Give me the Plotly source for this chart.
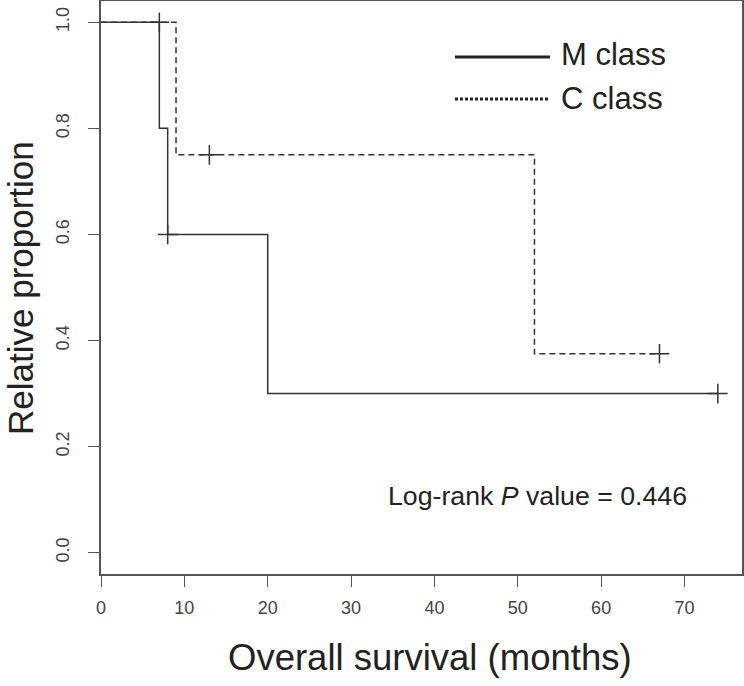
import plotly.graph_objects as go

# Kaplan-Meier step data (months, survival proportion)
m_time = [0, 7, 8, 20, 74]
m_surv = [1.0, 0.8, 0.6, 0.3, 0.3]
m_cens_time = [7, 8, 74]
m_cens_surv = [1.0, 0.6, 0.3]

c_time = [0, 9, 52, 67]
c_surv = [1.0, 0.75, 0.375, 0.375]
c_cens_time = [13, 67]
c_cens_surv = [0.75, 0.375]

x_ticks = [0, 10, 20, 30, 40, 50, 60, 70]
y_ticks = [0.0, 0.2, 0.4, 0.6, 0.8, 1.0]
y_ticktext = ["0.0", "0.2", "0.4", "0.6", "0.8", "1.0"]

LINE = "#333333"
FONT = "Liberation Sans, Arial, Helvetica, sans-serif"

fig = go.Figure()
fig.add_trace(go.Scatter(x=m_time, y=m_surv, mode="lines", line=dict(shape="hv", color=LINE, width=1.5),
                         showlegend=False, hoverinfo="skip"))
fig.add_trace(go.Scatter(x=c_time, y=c_surv, mode="lines", line=dict(shape="hv", color=LINE, width=1.5, dash="6px,4px"),
                         showlegend=False, hoverinfo="skip"))
fig.add_trace(go.Scatter(x=m_cens_time, y=m_cens_surv, mode="markers",
                         marker=dict(symbol="cross-thin", size=14, line=dict(color=LINE, width=1.5)),
                         showlegend=False))
fig.add_trace(go.Scatter(x=c_cens_time, y=c_cens_surv, mode="markers",
                         marker=dict(symbol="cross-thin", size=14, line=dict(color=LINE, width=1.5)),
                         showlegend=False))

# manual legend (R-style)
fig.add_shape(type="line", xref="paper", yref="paper", x0=0.5523, x1=0.7005, y0=0.9023, y1=0.9023,
              line=dict(color="#222222", width=3))
fig.add_shape(type="line", xref="paper", yref="paper", x0=0.5523, x1=0.7005, y0=0.829, y1=0.829,
              line=dict(color="#222222", width=3, dash="3px,2px"))

annotations = [
    dict(text="M class", x=0.715, y=0.906, xref="paper", yref="paper", xanchor="left", yanchor="middle",
         showarrow=False, font=dict(size=31, color="#222222", family=FONT)),
    dict(text="C class", x=0.715, y=0.829, xref="paper", yref="paper", xanchor="left", yanchor="middle",
         showarrow=False, font=dict(size=31, color="#222222", family=FONT)),
    dict(text="Log-rank <i>P</i> value = 0.446", x=0.444, y=0.136, xref="paper", yref="paper",
         xanchor="left", yanchor="middle", showarrow=False, font=dict(size=26.7, color="#222222", family=FONT)),
    dict(text="Overall survival (months)", x=(430 - 101) / 641, y=-(657 - 574) / 573, xref="paper", yref="paper",
         xanchor="center", yanchor="middle", showarrow=False, font=dict(size=36.5, color="#222222", family=FONT)),
    dict(text="Relative proportion", x=-(101 - 20) / 641, y=(574 - 288) / 573, xref="paper", yref="paper",
         xanchor="center", yanchor="middle", textangle=-90, showarrow=False,
         font=dict(size=35, color="#222222", family=FONT)),
]

fig.update_layout(
    width=744, height=686,
    margin=dict(l=101, r=2, t=1, b=112, autoexpand=False),
    paper_bgcolor="white", plot_bgcolor="white",
    annotations=annotations,
    font=dict(family=FONT),
)
fig.update_xaxes(range=[0, 76.9], tickvals=x_ticks, ticks="outside", ticklen=11, tickwidth=1.3,
                 tickcolor="#555555", showline=True, mirror=True, linecolor="#555555", linewidth=1.5,
                 showgrid=False, zeroline=False, ticklabelstandoff=6, automargin=False,
                 tickfont=dict(size=18, color="#444444", family=FONT))
fig.update_yaxes(range=[-0.04, 1.04], tickvals=y_ticks, ticktext=y_ticktext, ticks="outside", ticklen=11,
                 tickwidth=1.3, tickcolor="#555555", showline=True, mirror=True, linecolor="#555555",
                 linewidth=1.5, showgrid=False, zeroline=False, tickangle=-90, ticklabelstandoff=12,
                 automargin=False, tickfont=dict(size=18, color="#444444", family=FONT))

fig.write_html("out.html", config={"displayModeBar": False},
               post_script="document.body.style.margin='0px';document.body.style.overflow='hidden';")
